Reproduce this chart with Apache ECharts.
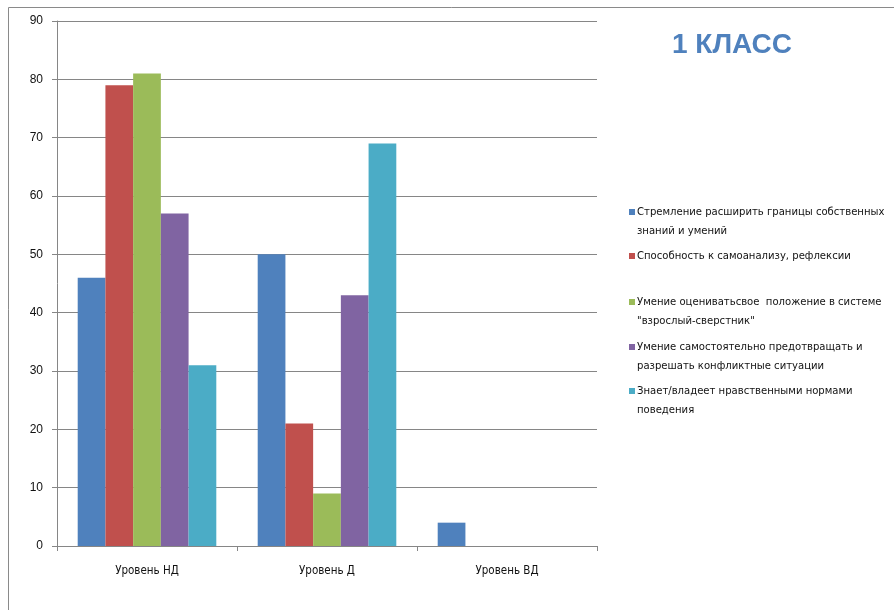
<!DOCTYPE html>
<html><head><meta charset="utf-8">
<script src="https://cdn.jsdelivr.net/npm/echarts@6/dist/echarts.min.js"></script>
<style>html,body{margin:0;padding:0;background:#fff}#c{width:894px;height:610px}</style>
</head><body><div id="c"></div>
<script>
const categories = ['Уровень НД', 'Уровень Д', 'Уровень ВД'];
const seriesNames = [
  'Стремление расширить границы собственных\nзнаний и умений',
  'Способность к самоанализу, рефлексии',
  'Умение оцениватьсвое  положение в системе\n"взрослый-сверстник"',
  'Умение самостоятельно предотвращать и\nразрешать конфликтные ситуации',
  'Знает/владеет нравственными нормами\nповедения'
];
const s1 = [46, 50, 4];
const s2 = [79, 21, 0];
const s3 = [81, 9, 0];
const s4 = [57, 43, 0];
const s5 = [31, 69, 0];
const yTicks = [0, 10, 20, 30, 40, 50, 60, 70, 80, 90];
const colors = ['#4F81BD', '#C0504D', '#9BBB59', '#8064A2', '#4BACC6'];
const values = [s1, s2, s3, s4, s5];
const legendIconY = [212, 256, 302, 347, 391];

const chart = echarts.init(document.getElementById('c'), null, {renderer: 'canvas'});
const font = '"Liberation Sans Narrow", "DejaVu Sans Condensed", Arial, sans-serif';
chart.setOption({
  animation: false,
  title: {
    text: '1 КЛАСС', left: 667, top: 26,
    textStyle: {color: '#4F81BD', fontSize: 28, fontWeight: 'bold', fontFamily: 'Liberation Sans, Arial, sans-serif'}
  },
  graphic: [{
    type: 'rect', shape: {x: 8.5, y: 7.5, width: 1000, height: 1000},
    style: {fill: 'none', stroke: '#8a8a8a', lineWidth: 1}, silent: true
  }],
  legend: seriesNames.map((n, i) => {
    const two = n.indexOf('\n') >= 0;
    return {
      data: [n], left: 629, top: legendIconY[i] - (two ? 28.5 : 9.5), orient: 'vertical',
      padding: 0,
      itemWidth: 6, itemHeight: 6, itemGap: 4, icon: 'rect',
      selectedMode: false,
      formatter: name => (name.indexOf('\n') >= 0 ? '\n' + name : name),
      textStyle: {fontSize: 11.2, color: '#111', fontFamily: font, lineHeight: 19,
        padding: [0, 0, 0, -3]}
    };
  }),
  grid: {left: 57, right: 297, top: 21, bottom: 64},
  xAxis: {
    type: 'category', data: categories,
    axisLine: {lineStyle: {color: '#868686', width: 1}},
    axisTick: {show: true, length: 5, lineStyle: {color: '#868686'}},
    axisLabel: {color: '#111', fontSize: 11.5, margin: 19, fontFamily: font}
  },
  yAxis: {
    type: 'value', min: yTicks[0], max: yTicks[yTicks.length - 1], interval: 10,
    axisLine: {show: true, lineStyle: {color: '#868686', width: 1}},
    axisTick: {show: true, length: 5, lineStyle: {color: '#868686'}},
    splitLine: {lineStyle: {color: '#868686', width: 1}},
    axisLabel: {color: '#111', fontSize: 12, margin: 14, fontFamily: 'Liberation Sans, Arial, sans-serif'}
  },
  series: values.map((v, i) => ({
    name: seriesNames[i], type: 'bar', data: v,
    itemStyle: {color: colors[i]},
    barGap: '0%', barCategoryGap: '23%'
  }))
});
</script></body></html>
